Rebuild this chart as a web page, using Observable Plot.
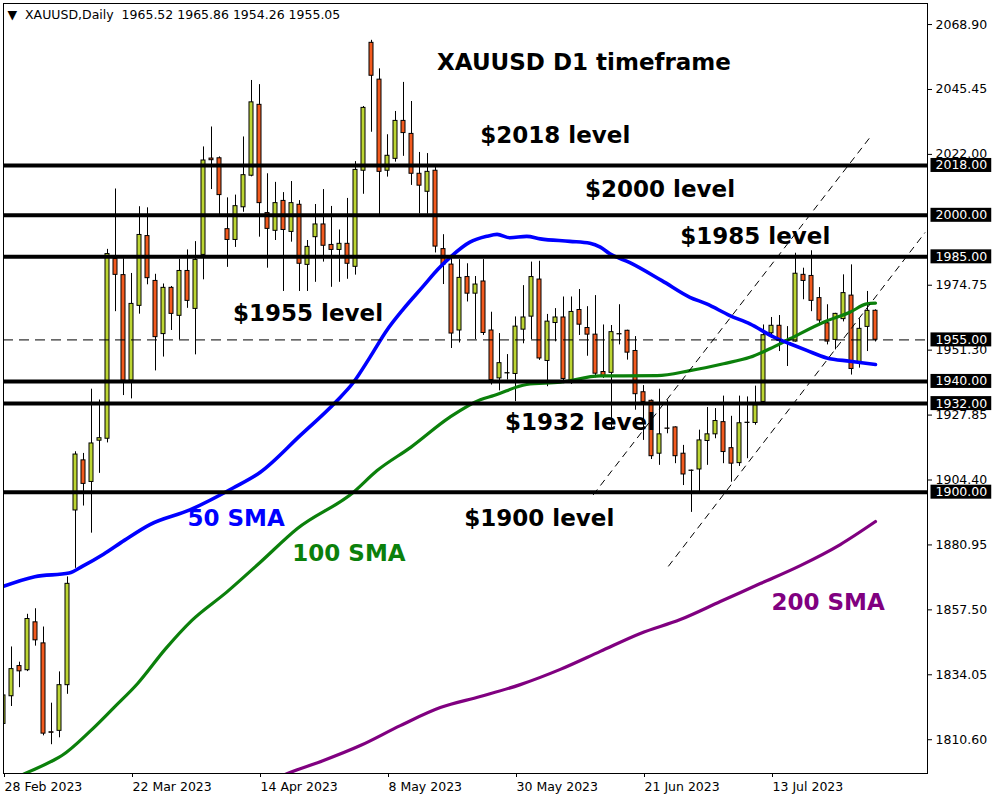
<!DOCTYPE html>
<html><head><meta charset="utf-8">
<script src="https://cdn.jsdelivr.net/npm/d3@7"></script>
<script src="https://cdn.jsdelivr.net/npm/@observablehq/plot@0.6"></script>
<style>body{margin:0;background:#fff;} #chart svg{display:block}</style>
</head><body>
<div id="chart"></div>
<script>
// ---- Daily candles (bar index 0 = 28 Feb 2023) ----
const openP  = [1816.3,1826.3,1837.2,1835.7,1853.0,1845.4,1813.3,1813.8,1830.3,1893.4,1911.5,1903.7,1918.6,1919.3,1984.2,1978.4,1940.3,1967.3,1992.5,1976.3,
                1957.1,1973.8,1963.7,1979.9,1966.2,1985.7,2020.5,2020.6,1995.0,1991.1,2002.9,2014.3,2039.9,2000.8,1994.4,2005.2,1994.0,2003.8,1982.1,1992.1,
                1996.7,1989.3,1987.5,1989.7,1981.4,2016.1,2062.3,2049.0,2016.1,2020.4,2034.1,2029.4,2015.0,2008.5,2016.1,1987.8,1982.2,1958.4,1977.7,1971.7,
                1976.1,1958.4,1941.1,1942.9,1942.7,1958.7,1963.4,1976.8,1947.4,1961.1,1963.1,1940.1,1965.8,1959.3,1956.9,1943.4,1943.1,1957.0,1958.3,1951.0,
                1936.1,1933.0,1913.9,1923.0,1923.4,1913.9,1907.8,1908.2,1918.5,1920.9,1925.3,1915.9,1910.5,1925.0,1925.0,1932.6,1957.4,1960.1,1954.8,1954.4,
                1978.5,1978.1,1970.1,1961.0,1955.0,1962.5,1971.0,1946.9,1959.7,1965.52];
const highP  = [1830.7,1844.1,1838.6,1855.9,1857.9,1851.3,1823.8,1835.1,1869.4,1914.6,1914.0,1937.2,1933.3,1987.7,2009.5,1984.3,1979.0,2003.1,2002.7,1978.7,
                1975.2,1974.3,1984.1,1987.5,1990.5,2024.7,2031.9,2021.1,2006.3,2007.3,2028.3,2048.7,2047.2,2015.0,2011.9,2008.2,2012.2,2005.3,1990.9,2003.9,
                2009.3,2003.2,1994.7,2006.1,2019.4,2039.3,2063.2,2052.9,2029.1,2037.5,2048.0,2041.1,2022.7,2022.3,2017.6,1993.0,1984.8,1984.0,1982.5,1977.9,
                1984.0,1965.0,1957.3,1949.7,1963.3,1974.6,1983.1,1983.4,1964.2,1966.3,1970.5,1970.5,1973.2,1967.0,1971.0,1960.4,1960.2,1967.7,1958.5,1956.2,
                1938.5,1933.3,1937.2,1933.2,1923.6,1916.9,1908.0,1922.4,1930.6,1930.2,1934.7,1927.4,1934.7,1934.4,1938.3,1960.4,1963.1,1963.8,1959.8,1986.3,
                1980.9,1987.2,1973.9,1967.7,1964.6,1978.5,1982.1,1962.6,1972.5,1965.86];
const lowP   = [1804.0,1822.6,1829.4,1835.2,1844.4,1812.0,1808.8,1811.3,1827.0,1872.5,1895.0,1885.2,1906.8,1917.8,1965.2,1934.9,1933.7,1964.3,1974.9,1943.8,
                1948.8,1958.4,1955.0,1966.4,1949.6,1976.7,2009.3,2000.3,1981.2,1988.4,2001.1,2013.9,1992.1,1980.9,1990.9,1972.5,1990.3,1972.5,1972.5,1975.8,
                1983.1,1974.0,1975.8,1976.9,1978.4,2007.6,2030.0,2000.2,2013.8,2019.2,2021.3,2010.8,2000.5,2000.4,1986.4,1975.0,1951.9,1953.9,1968.7,1955.1,
                1956.6,1938.7,1936.6,1940.5,1932.7,1953.6,1955.1,1947.6,1938.1,1954.3,1939.2,1938.9,1956.6,1949.1,1941.3,1941.1,1923.0,1953.2,1947.7,1929.6,
                1918.7,1911.8,1909.7,1921.1,1910.3,1902.4,1892.7,1900.2,1909.7,1919.3,1910.3,1903.6,1909.3,1912.1,1924.2,1932.4,1955.6,1950.8,1945.4,1954.2,
                1969.5,1965.2,1960.4,1953.2,1951.4,1961.5,1942.3,1944.8,1950.8,1954.26];
const closeP = [1826.6,1836.1,1835.3,1854.2,1846.5,1812.8,1813.1,1830.3,1866.9,1913.6,1903.0,1917.6,1919.5,1986.0,1978.5,1940.3,1968.0,1992.9,1977.3,1956.0,
                1973.8,1964.4,1979.9,1969.1,1983.9,2019.8,2019.9,2007.3,1991.1,2003.3,2014.5,2040.8,2004.4,1995.1,2004.4,1994.7,2004.4,1982.5,1988.6,1996.7,
                1989.0,1987.5,1989.7,1982.5,2016.4,2038.8,2050.4,2015.7,2021.5,2034.1,2029.7,2015.0,2010.7,2015.7,1988.7,1982.2,1957.3,1977.4,1971.7,1975.0,
                1957.5,1940.5,1946.6,1943.0,1959.8,1963.1,1977.7,1948.3,1961.6,1963.1,1940.9,1965.1,1960.5,1956.9,1942.8,1941.9,1957.8,1957.1,1950.4,1935.4,
                1932.6,1913.0,1920.9,1922.9,1913.0,1906.4,1907.7,1918.7,1920.9,1925.7,1914.5,1910.3,1924.9,1925.1,1931.4,1956.7,1960.1,1954.6,1954.9,1978.9,
                1976.3,1969.1,1962.0,1954.4,1964.4,1971.9,1944.5,1959.0,1965.5,1955.05];

// ---- Moving averages, [bar index, price] ----
const sma50 = [[0,1866.0],[3.9,1869.5],[8.2,1870.8],[9.9,1873.3],[12.5,1877.6],[15.1,1882.6],[18.3,1888.3],[23.3,1893.6],[28.75,1901.6],[32.1,1907.2],
               [37.1,1920.5],[41.5,1932.5],[43.75,1939.7],[45.8,1948.7],[47.9,1958.4],[50,1966.2],[52.5,1974.5],[54.3,1980.5],[55.9,1985.0],[58.3,1990.3],
               [60.4,1992.4],[61.7,1993.1],[63.3,1991.9],[65.4,1992.4],[67.1,1991.5],[70.8,1990.6],[73.3,1989.9],[74.6,1988.5],[75.8,1986.1],[78.3,1982.9],
               [82.3,1976.4],[85.8,1970.4],[87.9,1968.0],[90.8,1963.8],[93.3,1960.8],[96.3,1956.0],[98.3,1953.6],[100.4,1951.2],[102.9,1948.5],[105.8,1947.3],[109,1946.1]];
const sma100 = [[0,1794.8],[2.7,1798.4],[6.2,1803.1],[7.3,1804.9],[10.8,1813.6],[13.8,1822.2],[16.8,1831.0],[20.25,1843.4],[23.55,1853.7],[27.9,1863.9],
                [32.1,1874.7],[36.7,1886.8],[43.75,1900.0],[46.7,1907.8],[50.9,1916.2],[55.8,1927.1],[59.6,1933.4],[61.3,1934.9],[65.4,1938.9],[69.6,1939.7],
                [74.6,1942.0],[77.5,1942.0],[81.7,1942.1],[85.8,1943.9],[90,1946.4],[93.3,1948.7],[95.8,1951.8],[98.3,1955.4],[102.5,1961.4],[105.8,1965.0],
                [107.9,1968.0],[109,1968.3]];
const sma200 = [[30.8,1792.3],[35.5,1798.4],[40,1803.1],[44.6,1808.5],[49.6,1815.7],[54.6,1822.2],[59.6,1826.2],[64.6,1830.5],[69.6,1836.0],[74.6,1842.5],
                [79.6,1849.0],[84.6,1854.0],[89.6,1860.5],[94.6,1867.0],[99.6,1873.5],[104.6,1881.1],[109,1889.4]];

// ---- Drawn objects ----
const solidLevels = [2018, 2000, 1985, 1940, 1932, 1900];
const dashedLevels = [1955];
const channelUpper = [[73.7,1899.0],[108.3,2028.1]];
const channelLower = [[83.1,1873.2],[115.2,1993.8]];

const annoText  = ["XAUUSD D1 timeframe","$2018 level","$2000 level","$1985 level","$1955 level","$1932 level","$1900 level","50 SMA","100 SMA","200 SMA"];
const annoIdx   = [54.2, 59.6, 72.7, 84.6, 28.7, 62.7, 57.6, 23.0, 36.1, 96.0];
const annoPrice = [2055.2, 2028.8, 2009.3, 1992.3, 1964.5, 1925.2, 1890.5, 1890.5, 1877.9, 1860.2];

// ---- Axes ----
const yTicks = [2068.90, 2045.45, 2022.00, 1974.75, 1951.30, 1927.85, 1904.40, 1880.95, 1857.50, 1834.05, 1810.60];
const xTickIdx = [0, 16, 32, 48, 64, 80, 96];
const xTickLabels = ["28 Feb 2023","22 Mar 2023","14 Apr 2023","8 May 2023","30 May 2023","21 Jun 2023","13 Jul 2023"];
const header = "\u25BC\u00A0\u00A0XAUUSD,Daily\u00A0\u00A01965.52 1965.86 1954.26 1955.05";

// ---- build ----
const candles = openP.map((o, i) => ({i, o, h: highP[i], l: lowP[i], c: closeP[i]}));
const annos = annoText.map((t, k) => ({t, x: annoIdx[k], y: annoPrice[k]}));
const annoColor = t => t === "50 SMA" ? "#0000ff" : t === "100 SMA" ? "#0b800b" : t === "200 SMA" ? "#800080" : "#000000";
const bull = "#bcd533", bear = "#f25a1e";
const F = "DejaVu Sans, Verdana, sans-serif";
const levelLabels = solidLevels.concat(dashedLevels).map(d => d.toFixed(2));

const chart = Plot.plot({
  width: 1000, height: 800,
  marginLeft: 3, marginRight: 73, marginTop: 3, marginBottom: 27,
  style: {fontFamily: F, fontSize: "12.5px", background: "#fff", color: "#000", overflow: "visible"},
  x: {domain: [0, 115.5], axis: null},
  y: {domain: [1798.4, 2076.5], axis: null},
  marks: [
    Plot.ruleX(candles, {x: "i", y1: "l", y2: "h", stroke: "#000", strokeWidth: 1, clip: true}),
    Plot.rect(candles, {x1: d => d.i - 0.25, x2: d => d.i + 0.25, y1: "o", y2: "c",
      fill: d => d.c >= d.o ? bull : bear, stroke: "#000", strokeWidth: 1, clip: true}),
    Plot.line(sma200, {x: d => d[0], y: d => d[1], stroke: "#800080", strokeWidth: 3.2, curve: "monotone-x", clip: true}),
    Plot.line(sma100, {x: d => d[0], y: d => d[1], stroke: "#0b800b", strokeWidth: 3.2, curve: "monotone-x", clip: true}),
    Plot.line(sma50, {x: d => d[0], y: d => d[1], stroke: "#0000ff", strokeWidth: 3.6, curve: "monotone-x", clip: true}),
    Plot.ruleY(dashedLevels, {stroke: "#000", strokeWidth: 1, strokeDasharray: "10,6"}),
    Plot.ruleY(solidLevels, {stroke: "#000", strokeWidth: 4}),
    Plot.link([channelUpper, channelLower], {x1: d => d[0][0], y1: d => d[0][1], x2: d => d[1][0], y2: d => d[1][1],
      stroke: "#000", strokeWidth: 1, strokeDasharray: "7,5", clip: true}),
    Plot.text(annos, {x: "x", y: "y", text: "t", textAnchor: "start", lineAnchor: "middle",
      fill: d => annoColor(d.t), fontSize: 23, fontWeight: "bold", fontFamily: F}),
    Plot.text([header], {text: d => d, frameAnchor: "top-left", dx: 4, dy: 11, textAnchor: "start",
      lineAnchor: "middle", fill: "#000", fontSize: 12.5}),
    Plot.axisY(yTicks, {anchor: "right", tickSize: 4, tickPadding: 4, tickFormat: d => d.toFixed(2), label: null, fontSize: 12.5}),
    Plot.axisX(xTickIdx, {anchor: "bottom", tickSize: 4, tickPadding: 5, textAnchor: "start",
      tickFormat: d => xTickLabels[xTickIdx.indexOf(d)], label: null, fontSize: 12.5, dx: 1}),
    Plot.text(levelLabels, {y: d => +d, text: d => d, frameAnchor: "right",
      dx: 8, textAnchor: "start", lineAnchor: "middle", fill: "#fff", fontSize: 12.5}),
    Plot.frame({stroke: "#000", strokeWidth: 1})
  ]
});
document.getElementById("chart").append(chart);

// black boxes behind the level price labels (white text)
Array.from(chart.querySelectorAll("text"))
  .filter(t => levelLabels.includes(t.textContent.trim()) && t.closest("g") && 
               (t.getAttribute("fill") === "#fff" || (t.closest("g").getAttribute("fill") === "#fff")))
  .forEach(t => {
    const b = t.getBBox();
    const r = document.createElementNS("http://www.w3.org/2000/svg", "rect");
    r.setAttribute("x", b.x - 5);
    r.setAttribute("y", b.y + 0.5);
    r.setAttribute("width", b.width + 9);
    r.setAttribute("height", b.height - 1);
    r.setAttribute("fill", "#000");
    if (t.getAttribute("transform")) r.setAttribute("transform", t.getAttribute("transform"));
    t.parentNode.insertBefore(r, t);
  });
</script>
</body></html>
